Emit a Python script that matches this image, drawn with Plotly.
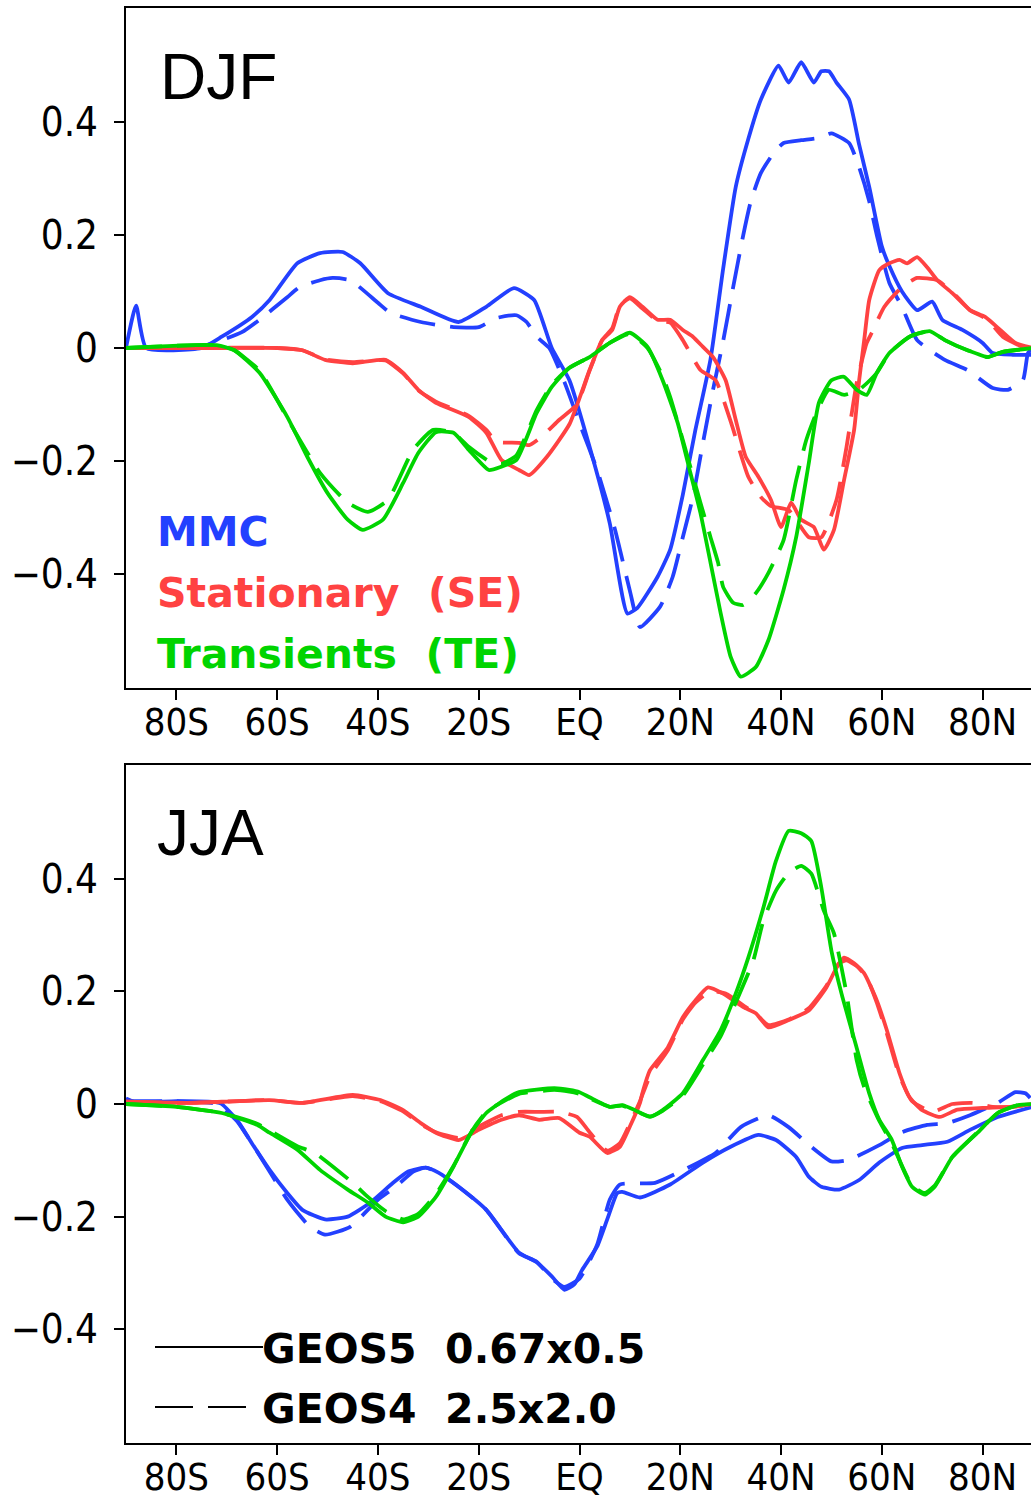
import plotly.graph_objects as go

# ---------------- DATA ----------------
# DJF
djf_mmc_g5_lat = [-90, -88, -86, -75, -71, -65, -61.5, -56, -51.5, -47, -43.5, -38, -31.5, -24, -18.5, -13, -9, -5.5, -2, 2, 6, 9.5, 11.5, 15.5, 18, 20.5, 23, 26, 28.5, 31, 33.5, 36, 39.5, 41.5, 44, 46.5, 48, 49.5, 51, 53.5, 55.5, 57.5, 60, 61.5, 64, 67, 70, 72, 76, 80, 82, 86, 90]
djf_mmc_g5_val = [0, 0.075, 0, 0, 0.02, 0.055, 0.085, 0.15, 0.168, 0.17, 0.15, 0.097, 0.073, 0.046, 0.073, 0.106, 0.085, 0, -0.057, -0.175, -0.31, -0.47, -0.46, -0.405, -0.357, -0.26, -0.145, -0.02, 0.14, 0.285, 0.37, 0.44, 0.50, 0.47, 0.506, 0.47, 0.49, 0.49, 0.47, 0.44, 0.36, 0.285, 0.18, 0.145, 0.10, 0.067, 0.082, 0.05, 0.032, 0.009, -0.009, -0.012, -0.012]
djf_mmc_g4_lat = [-90, -80, -74, -67, -63.5, -58, -55.5, -51.5, -49, -45.5, -40, -37.5, -31.5, -25, -20, -16.5, -12.5, -10.5, -8.5, -6, -3, 0, 3.5, 7, 10, 12, 16, 18.5, 20.5, 22.5, 24.5, 26.5, 28.5, 30.5, 32.5, 34, 36, 38.5, 40.5, 44, 47.5, 50, 53.5, 55.5, 57.5, 59, 61.5, 64, 67, 72.5, 77, 82, 85, 88, 89, 90]
djf_mmc_g4_val = [0, 0, 0.005, 0.028, 0.05, 0.09, 0.108, 0.12, 0.124, 0.12, 0.08, 0.062, 0.046, 0.037, 0.037, 0.053, 0.058, 0.046, 0.02, 0, -0.06, -0.133, -0.216, -0.32, -0.43, -0.494, -0.458, -0.405, -0.335, -0.264, -0.168, -0.074, 0.012, 0.108, 0.20, 0.26, 0.31, 0.345, 0.363, 0.368, 0.372, 0.38, 0.363, 0.32, 0.26, 0.20, 0.115, 0.073, 0.014, -0.021, -0.039, -0.071, -0.074, -0.057, -0.009, 0]
djf_se_g5_lat = [-90, -70, -60, -55, -50.5, -45, -38.5, -35, -32, -28.5, -22, -18.5, -15.5, -12, -10, -6.5, -2, 2, 4.5, 6.5, 8, 10, 12.5, 15.5, 18, 20.5, 22.5, 24.5, 26.5, 29, 31, 33, 35.5, 38, 40, 42, 44, 46.5, 48.5, 50.5, 52.5, 54.5, 55.5, 56.5, 57.5, 59.5, 61.5, 63.5, 65, 67, 69, 71, 74, 77.5, 80.5, 83.5, 86.5, 90]
djf_se_g5_val = [0, 0, 0, -0.004, -0.021, -0.027, -0.021, -0.044, -0.074, -0.097, -0.122, -0.15, -0.198, -0.216, -0.225, -0.193, -0.135, -0.039, 0.014, 0.032, 0.073, 0.09, 0.073, 0.05, 0.05, 0.032, 0.02, 0.002, -0.016, -0.057, -0.127, -0.193, -0.228, -0.269, -0.317, -0.274, -0.304, -0.317, -0.357, -0.322, -0.234, -0.145, -0.057, 0.014, 0.085, 0.138, 0.15, 0.156, 0.15, 0.161, 0.143, 0.12, 0.097, 0.067, 0.055, 0.032, 0.009, 0]
djf_se_g4_lat = [-90, -60, -55, -50.5, -45, -38.5, -35, -32, -28.5, -22, -18.5, -16.5, -12, -10, -7.5, -4, -0.5, 2, 4.5, 6.5, 8, 10, 12.5, 15.5, 18, 20.5, 24, 27, 30, 33.5, 36, 38, 41.5, 45.5, 48, 51, 53, 55, 57, 58, 60.5, 64, 67, 71, 75, 77.5, 81, 84, 88.5, 90]
djf_se_g4_val = [0, 0, -0.004, -0.02, -0.025, -0.022, -0.045, -0.075, -0.095, -0.12, -0.145, -0.166, -0.168, -0.172, -0.157, -0.127, -0.1, -0.04, 0.014, 0.035, 0.075, 0.088, 0.07, 0.048, 0.045, 0.014, -0.039, -0.057, -0.13, -0.228, -0.264, -0.28, -0.287, -0.335, -0.335, -0.269, -0.175, -0.062, 0.009, 0.027, 0.073, 0.108, 0.124, 0.12, 0.09, 0.067, 0.05, 0.02, 0, 0]
djf_te_g5_lat = [-90, -72, -68.5, -63.5, -58, -54, -50, -46, -43, -39, -35, -32, -28.5, -25, -22, -18, -15.5, -12.5, -8.5, -5.5, -2, 2, 6, 10, 13.5, 16.5, 19.5, 22, 24, 26, 28, 30, 32, 35, 37.5, 40.5, 43, 45.5, 47.5, 50, 52.5, 55, 57, 59, 61.5, 65.5, 69.5, 72.5, 77, 81, 84, 90]
djf_te_g5_val = [0, 0.005, -0.004, -0.044, -0.122, -0.193, -0.257, -0.304, -0.322, -0.304, -0.239, -0.186, -0.149, -0.15, -0.18, -0.216, -0.21, -0.198, -0.115, -0.069, -0.035, -0.016, 0.009, 0.027, 0.002, -0.057, -0.133, -0.221, -0.292, -0.38, -0.469, -0.547, -0.582, -0.565, -0.517, -0.428, -0.335, -0.204, -0.097, -0.057, -0.051, -0.074, -0.083, -0.044, -0.009, 0.02, 0.03, 0.014, -0.004, -0.016, -0.007, 0]
djf_te_g4_lat = [-90, -72, -68.5, -63.5, -57, -51.5, -46, -42, -38, -33, -29, -25, -22, -18, -15.5, -12.5, -8.5, -5.5, -2, 2, 6, 10, 13.5, 16.5, 18, 20.5, 24, 26, 27.5, 28.5, 30.5, 32.5, 35, 37.5, 40.5, 43, 45, 47, 49.5, 52.5, 55.5, 59, 61.5, 65.5, 69.5, 72.5, 77, 81, 84, 90]
djf_te_g4_val = [0, 0.005, -0.004, -0.04, -0.14, -0.221, -0.274, -0.29, -0.269, -0.18, -0.145, -0.15, -0.175, -0.2, -0.205, -0.19, -0.11, -0.065, -0.035, -0.016, 0.009, 0.025, 0.0, -0.05, -0.087, -0.163, -0.274, -0.335, -0.38, -0.423, -0.451, -0.455, -0.434, -0.398, -0.34, -0.234, -0.163, -0.115, -0.074, -0.083, -0.074, -0.044, -0.009, 0.02, 0.03, 0.014, -0.004, -0.016, -0.007, 0]

# JJA
jja_mmc_g5_lat = [-90, -88, -80, -72, -71, -68, -65, -61.5, -58, -55, -50.5, -46, -41.5, -37, -34, -30.5, -28, -24, -18.5, -12, -8.5, -5.5, -3, -1, 0.5, 3.5, 5.5, 7.5, 8.5, 12, 18, 24.5, 30, 35.5, 39, 43, 45.5, 48, 51.5, 55.5, 59.5, 64, 68, 73, 77.5, 83, 90]
jja_mmc_g5_val = [0.01, 0.003, 0.005, 0.003, 0, -0.028, -0.07, -0.117, -0.158, -0.188, -0.205, -0.2, -0.175, -0.14, -0.12, -0.113, -0.122, -0.147, -0.188, -0.264, -0.281, -0.306, -0.33, -0.32, -0.295, -0.253, -0.205, -0.158, -0.156, -0.166, -0.143, -0.104, -0.076, -0.055, -0.064, -0.094, -0.129, -0.147, -0.152, -0.135, -0.104, -0.078, -0.073, -0.067, -0.046, -0.023, -0.005]
jja_mmc_g4_lat = [-90, -80, -72, -68, -65, -61.5, -58, -53.5, -50.5, -45.5, -40, -36.5, -33, -30.5, -28, -24, -18.5, -12, -8.5, -5.5, -3, 0, 3.5, 6, 8, 15, 20, 27, 32, 37.5, 41.5, 46, 50, 53.5, 59.5, 64, 69, 73, 77.5, 83, 86.5, 88.5, 90]
jja_mmc_g4_val = [0.005, 0.005, 0, -0.03, -0.07, -0.12, -0.17, -0.218, -0.232, -0.218, -0.17, -0.147, -0.12, -0.113, -0.122, -0.147, -0.188, -0.265, -0.28, -0.31, -0.325, -0.31, -0.25, -0.17, -0.143, -0.14, -0.12, -0.087, -0.041, -0.02, -0.041, -0.076, -0.102, -0.099, -0.073, -0.05, -0.037, -0.034, -0.02, 0.002, 0.021, 0.019, 0.005]
jja_se_g5_lat = [-90, -78, -71, -61.5, -55, -45, -39.5, -35, -31.5, -28.5, -24, -20, -15.5, -12, -8, -4, 0, 2, 5.5, 8, 10, 12, 12.5, 14, 17.5, 20.5, 23, 25.5, 28.5, 32.5, 35, 37.5, 41.5, 45.5, 49, 51, 52.5, 54.5, 56.5, 59, 61, 63.5, 65.5, 68, 71.5, 75, 80, 85.5, 90]
jja_se_g5_val = [0.004, 0.002, 0.004, 0.007, 0.002, 0.016, 0.007, -0.011, -0.034, -0.051, -0.064, -0.046, -0.028, -0.02, -0.028, -0.025, -0.051, -0.058, -0.087, -0.076, -0.04, 0.002, 0.02, 0.06, 0.10, 0.154, 0.184, 0.207, 0.196, 0.172, 0.161, 0.136, 0.149, 0.166, 0.207, 0.242, 0.26, 0.25, 0.232, 0.184, 0.131, 0.055, 0.012, -0.011, -0.023, -0.01, -0.007, -0.005, 0]
jja_se_g4_lat = [-90, -78, -71, -61.5, -55, -45, -39.5, -35, -31.5, -28.5, -24, -20, -15.5, -12, -8, -4, -0.5, 2, 5.5, 8, 10, 12, 14, 17.5, 20.5, 23, 26, 29, 33, 35, 37.5, 41.5, 45.5, 49, 51.5, 53, 55, 57, 59, 61, 63.5, 66, 70, 74, 78, 82, 86, 90]
jja_se_g4_val = [0.004, 0.002, 0.004, 0.007, 0.002, 0.014, 0.005, -0.013, -0.036, -0.05, -0.06, -0.04, -0.02, -0.014, -0.014, -0.014, -0.023, -0.05, -0.083, -0.07, -0.035, 0.005, 0.05, 0.095, 0.15, 0.18, 0.2, 0.196, 0.172, 0.16, 0.14, 0.15, 0.17, 0.21, 0.25, 0.255, 0.245, 0.225, 0.18, 0.125, 0.05, 0.005, -0.014, 0, 0.002, -0.005, -0.005, 0]
jja_te_g5_lat = [-90, -80, -71, -64, -61.5, -56, -51.5, -46, -42, -38.5, -35, -32, -28.5, -25, -21.5, -18.5, -15, -12, -5, -2, 0, 2, 6, 8.5, 11, 14, 16.5, 20.5, 24.5, 28, 31, 33.5, 36.5, 39, 41.5, 44, 46, 48, 50, 52, 55, 57.5, 59.5, 62, 64, 66, 68.5, 70.5, 74, 79, 83, 87, 90]
jja_te_g5_val = [0, -0.005, -0.016, -0.037, -0.051, -0.081, -0.117, -0.152, -0.175, -0.2, -0.21, -0.2, -0.165, -0.111, -0.051, -0.016, 0.007, 0.021, 0.028, 0.025, 0.021, 0.012, -0.005, -0.002, -0.011, -0.023, -0.011, 0.019, 0.078, 0.131, 0.196, 0.26, 0.349, 0.432, 0.485, 0.481, 0.467, 0.384, 0.272, 0.196, 0.10, 0.019, -0.028, -0.064, -0.111, -0.147, -0.161, -0.147, -0.094, -0.051, -0.016, -0.002, 0]
jja_te_g4_lat = [-90, -80, -71, -64, -61.5, -56, -52.5, -45, -42, -38.5, -35, -32, -28.5, -25, -21.5, -18.5, -15, -12, -5, -2, 0, 2, 6, 8.5, 11, 14, 16.5, 20.5, 24.5, 28, 31, 34.5, 36.5, 39, 41.5, 44, 46, 48.5, 50.5, 53, 55, 56.5, 59.5, 62, 64, 66, 68.5, 70.5, 74, 79, 83, 87, 90]
jja_te_g4_val = [0, -0.005, -0.016, -0.035, -0.047, -0.075, -0.087, -0.14, -0.165, -0.19, -0.205, -0.195, -0.16, -0.11, -0.05, -0.014, 0.005, 0.018, 0.025, 0.022, 0.018, 0.01, -0.005, -0.003, -0.012, -0.022, -0.012, 0.015, 0.07, 0.12, 0.18, 0.255, 0.326, 0.379, 0.41, 0.423, 0.409, 0.343, 0.303, 0.196, 0.078, 0.03, -0.03, -0.07, -0.11, -0.145, -0.158, -0.145, -0.094, -0.05, -0.016, -0.002, 0]

x_tickvals = [-80, -60, -40, -20, 0, 20, 40, 60, 80]
x_ticktext = ["80S", "60S", "40S", "20S", "EQ", "20N", "40N", "60N", "80N"]
y_tickvals = [0.4, 0.2, 0, -0.2, -0.4]
y_ticktext = ["0.4", "0.2", "0", "\u22120.2", "\u22120.4"]

# ---------------- STYLE ----------------
BLUE = "#2340ff"
RED = "#ff4242"
GREEN = "#00d400"
DASH = "36px,15px"
LW = 3.8

W, H = 1031, 1502
L, R, T, B = 126, 0, 8, 59
PH = H - T - B


def py2paper(py):
    return (H - B - py) / PH


def px2paper(px):
    return (px - L) / (W - L - R)


fig = go.Figure()

series = [
    ("x", "y", djf_mmc_g5_lat, djf_mmc_g5_val, BLUE, "solid"),
    ("x", "y", djf_mmc_g4_lat, djf_mmc_g4_val, BLUE, DASH),
    ("x", "y", djf_se_g5_lat, djf_se_g5_val, RED, "solid"),
    ("x", "y", djf_se_g4_lat, djf_se_g4_val, RED, DASH),
    ("x", "y", djf_te_g5_lat, djf_te_g5_val, GREEN, "solid"),
    ("x", "y", djf_te_g4_lat, djf_te_g4_val, GREEN, DASH),
    ("x2", "y2", jja_mmc_g5_lat, jja_mmc_g5_val, BLUE, "solid"),
    ("x2", "y2", jja_mmc_g4_lat, jja_mmc_g4_val, BLUE, DASH),
    ("x2", "y2", jja_se_g5_lat, jja_se_g5_val, RED, "solid"),
    ("x2", "y2", jja_se_g4_lat, jja_se_g4_val, RED, DASH),
    ("x2", "y2", jja_te_g5_lat, jja_te_g5_val, GREEN, "solid"),
    ("x2", "y2", jja_te_g4_lat, jja_te_g4_val, GREEN, DASH),
]
for xa, ya, lat, val, col, dash in series:
    fig.add_trace(go.Scatter(
        x=lat, y=val, xaxis=xa, yaxis=ya, mode="lines",
        line=dict(color=col, width=LW, dash=dash, shape="spline", smoothing=0.5),
        showlegend=False, hoverinfo="skip"))

FAM = "Liberation Sans Narrow, DejaVu Sans Condensed, Arial Narrow, sans-serif"
XTICKFONT = dict(family=FAM, size=38, color="black")
YTICKFONT = dict(family=FAM, size=40, color="black")
xrange = [-90, -90 + (W - L - R) / (907 / 180)]

top_dom = [py2paper(688), 1.0]
bot_dom = [0.0, py2paper(765)]

xcommon = dict(range=xrange, tickvals=x_tickvals, ticktext=x_ticktext,
               showline=True, linecolor="black", linewidth=2, mirror=True,
               ticks="outside", ticklen=10, tickwidth=1.5, tickcolor="black",
               ticklabelstandoff=-11, automargin=False,
               showgrid=False, zeroline=False, tickfont=XTICKFONT, fixedrange=True)
ycommon = dict(range=[-0.602, 0.602], tickvals=y_tickvals, ticktext=y_ticktext,
               showline=True, linecolor="black", linewidth=2, mirror=False,
               ticks="outside", ticklen=10, tickwidth=1.5, tickcolor="black",
               ticklabelstandoff=8, automargin=False,
               showgrid=False, zeroline=False, tickfont=YTICKFONT, fixedrange=True)

fig.update_layout(
    width=W, height=H,
    margin=dict(l=L, r=R, t=T, b=B, pad=0, autoexpand=False),
    paper_bgcolor="white", plot_bgcolor="white",
    xaxis=dict(domain=[0, 1], anchor="y", **xcommon),
    yaxis=dict(domain=top_dom, anchor="x", **ycommon),
    xaxis2=dict(domain=[0, 1], anchor="y2", **xcommon),
    yaxis2=dict(domain=bot_dom, anchor="x2", **ycommon),
)

BOLD = "DejaVu Sans"
annots = [
    ("DJF", 158, 77, 64, "Liberation Sans", "black", False),
    ("JJA", 155, 833, 64, "Liberation Sans", "black", False),
    ("MMC", 155, 532, 41, BOLD, BLUE, True),
    ("Stationary  (SE)", 155, 593, 41, BOLD, RED, True),
    ("Transients  (TE)", 155, 654, 41, BOLD, GREEN, True),
    ("GEOS5  0.67x0.5", 260, 1349, 41, BOLD, "black", True),
    ("GEOS4  2.5x2.0", 260, 1409, 41, BOLD, "black", True),
]
for text, px, py, size, fam, col, bold in annots:
    fig.add_annotation(
        text=f"<b>{text}</b>" if bold else text,
        xref="paper", yref="paper", x=px2paper(px), y=py2paper(py),
        xanchor="left", yanchor="middle", showarrow=False,
        font=dict(family=fam, size=size, color=col))

# legend line samples
fig.add_shape(type="line", xref="paper", yref="paper",
              x0=px2paper(155), x1=px2paper(263), y0=py2paper(1347), y1=py2paper(1347),
              line=dict(color="black", width=2))
fig.add_shape(type="line", xref="paper", yref="paper",
              x0=px2paper(155), x1=px2paper(248), y0=py2paper(1407), y1=py2paper(1407),
              line=dict(color="black", width=2, dash="38px,15px"))

fig.write_html(
    "out.html",
    config={"displayModeBar": False},
    post_script="document.body.style.margin='0px';document.body.style.overflow='hidden';",
)
